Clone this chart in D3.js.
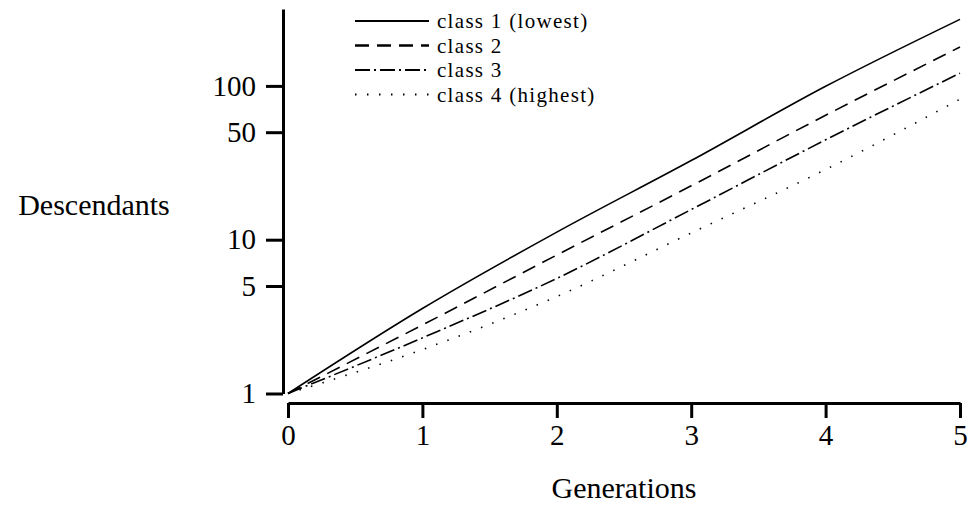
<!DOCTYPE html>
<html>
<head>
<meta charset="utf-8">
<script src="https://cdn.jsdelivr.net/npm/d3@7"></script>
<style>
  body { margin: 0; background: #fff; }
  text { font-family: "Liberation Serif", "Times New Roman", serif; fill: #000; }
</style>
</head>
<body>
<script>

// generations on the x axis
var generations = [0, 1, 2, 3, 4, 5];

// descendants per class
var class1 = [1, 3.57, 11.2, 32.7, 99.4, 271];
var class2 = [1, 2.79, 7.95, 22.4, 64.4, 179];
var class3 = [1, 2.30, 5.6, 15.7, 44.6, 121];
var class4 = [1, 1.93, 4.27, 11.06, 28.6, 82];

var seriesNames = ["class 1 (lowest)", "class 2", "class 3", "class 4 (highest)"];
var seriesValues = [class1, class2, class3, class4];
var dashes = ["none", "14,8", "15,4,2,4", "1.5,10.5"];

var yTicks = [1, 5, 10, 50, 100];
var xTicks = [0, 1, 2, 3, 4, 5];

var width = 969, height = 506;

var svg = d3.select("body").append("svg")
    .attr("width", width)
    .attr("height", height);

var xScale = d3.scaleLinear()
    .domain([0, 5])
    .range([288, 960]);

var yScale = d3.scaleLog()
    .domain([1, Math.pow(10, 2.5)])
    .range([393.5, 9]);

// y axis, sits left of the plot
var yAxis = d3.axisLeft(yScale)
    .tickValues(yTicks)
    .tickFormat(d3.format("d"))
    .tickSize(17)
    .tickPadding(10)
    .tickSizeOuter(0);

var gy = svg.append("g")
    .attr("transform", "translate(283,0)")
    .call(yAxis);

// x axis, dropped below the plot
var xAxis = d3.axisBottom(xScale)
    .tickValues(xTicks)
    .tickFormat(d3.format("d"))
    .tickSize(15)
    .tickPadding(6)
    .tickSizeOuter(0);

var gx = svg.append("g")
    .attr("transform", "translate(0,403)")
    .call(xAxis);

svg.selectAll(".domain, .tick line")
    .attr("stroke", "#000")
    .attr("stroke-width", 3);

gx.attr("font-family", "'Liberation Serif', serif").attr("font-size", 29);
gy.attr("font-family", "'Liberation Serif', serif").attr("font-size", 29);

svg.append("text")
    .attr("x", 94)
    .attr("y", 215)
    .attr("text-anchor", "middle")
    .style("font-size", "30px")
    .text("Descendants");

svg.append("text")
    .attr("x", 624)
    .attr("y", 498)
    .attr("text-anchor", "middle")
    .style("font-size", "30px")
    .text("Generations");

// the four curves
var line = d3.line()
    .x(function (d, i) { return xScale(generations[i]); })
    .y(function (d) { return yScale(d); })
    .curve(d3.curveMonotoneX);

svg.selectAll(".series")
    .data(seriesValues)
  .enter().append("path")
    .attr("class", "series")
    .attr("d", line)
    .attr("fill", "none")
    .attr("stroke", "#000")
    .attr("stroke-width", 1.6)
    .attr("stroke-dasharray", function (d, i) { return dashes[i]; });

// legend
var legend = svg.append("g")
    .attr("transform", "translate(355,21)");

var rows = legend.selectAll(".row")
    .data(seriesNames)
  .enter().append("g")
    .attr("class", "row")
    .attr("transform", function (d, i) { return "translate(0," + (i * 24.5) + ")"; });

rows.append("line")
    .attr("x1", 0)
    .attr("x2", 74)
    .attr("stroke", "#000")
    .attr("stroke-width", function (d, i) { return i == 1 ? 2.6 : 1.8; })
    .attr("stroke-dasharray", function (d, i) { return dashes[i]; });

rows.append("text")
    .attr("x", 82)
    .attr("y", 7)
    .style("font-size", "21px")
    .style("letter-spacing", "1.3px")
    .text(function (d) { return d; });

</script>
</body>
</html>
